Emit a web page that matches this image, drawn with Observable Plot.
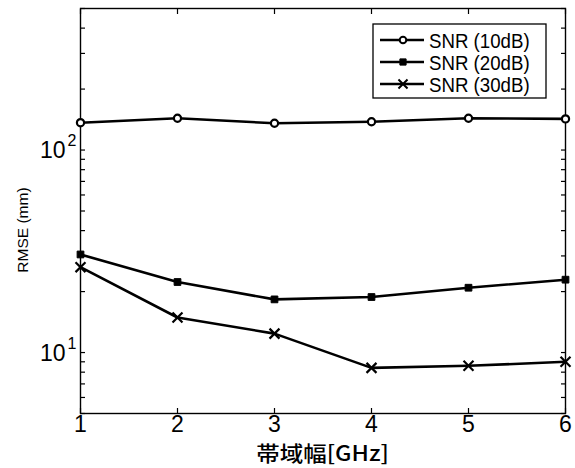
<!DOCTYPE html>
<html>
<head>
<meta charset="utf-8">
<script src="https://cdn.jsdelivr.net/npm/d3@7"></script>
<script src="https://cdn.jsdelivr.net/npm/@observablehq/plot@0.6"></script>
<style>
  html, body { margin: 0; padding: 0; background: #fff; }
  #chart svg { display: block; }
</style>
</head>
<body>
<div id="chart"></div>
<script>
// Bandwidth sweep (GHz) and RMSE (mm) for three SNR levels
const bandwidth = [1, 2, 3, 4, 5, 6];
const rmseSnr10 = [136.5, 143.5, 135.6, 138, 143.5, 142.5];
const rmseSnr20 = [30.5, 22.3, 18.3, 18.8, 20.9, 22.9];
const rmseSnr30 = [26.4, 14.9, 12.4, 8.4, 8.6, 9.0];
const seriesNames = ["SNR (10dB)", "SNR (20dB)", "SNR (30dB)"];

const xTicks = [1, 2, 3, 4, 5, 6];
const yMajorTicks = [10, 100];
const yMinorTicks = [5, 6, 7, 8, 9, 20, 30, 40, 50, 60, 70, 80, 90, 200, 300, 400, 500];
const yTickLabels = [{value: 10, base: "10", exp: "1"}, {value: 100, base: "10", exp: "2"}];
const xLabel = "帯域幅[GHz]";
const yLabel = "RMSE (mm)";

const seriesValues = [rmseSnr10, rmseSnr20, rmseSnr30];
const rows = seriesNames.flatMap((name, s) =>
  bandwidth.map((b, i) => ({series: name, bw: b, rmse: seriesValues[s][i]})));
const bySeries = name => rows.filter(d => d.series === name);

const sans = "'Liberation Sans', Arial, sans-serif";
const allYTicks = [...yMajorTicks, ...yMinorTicks];

const W = 575, H = 468;
const M = {left: 80, right: 10, top: 8, bottom: 55};

const chart = Plot.plot({
  width: W,
  height: H,
  marginLeft: M.left,
  marginRight: M.right,
  marginTop: M.top,
  marginBottom: M.bottom,
  style: {fontFamily: sans, fontSize: "23px", color: "black", background: "white"},
  x: {domain: [1, 6]},
  y: {type: "log", domain: [5, 500]},
  marks: [
    // inward ticks on all four sides
    Plot.axisX({ticks: xTicks, anchor: "bottom", tickSize: -5, fill: "none", label: null, strokeWidth: 1.2}),
    Plot.axisX({ticks: xTicks, anchor: "top", tickSize: -5, fill: "none", label: null, strokeWidth: 1.2}),
    Plot.axisY({ticks: allYTicks, anchor: "left", tickSize: -5, fill: "none", label: null, strokeWidth: 1.2}),
    Plot.axisY({ticks: allYTicks, anchor: "right", tickSize: -5, fill: "none", label: null, strokeWidth: 1.2}),
    // x tick labels
    Plot.axisX({ticks: xTicks, anchor: "bottom", tickSize: 0, tickPadding: 2, label: null, tickFormat: d => String(d), ariaLabel: "x-tick-labels"}),
    // y tick labels as 10 with a superscript exponent
    Plot.text(yTickLabels, {y: "value", frameAnchor: "left", text: "base", textAnchor: "end", lineAnchor: "middle", dx: -15, dy: 1, fontSize: 23, ariaLabel: "y-tick-base"}),
    Plot.text(yTickLabels, {y: "value", frameAnchor: "left", text: "exp", textAnchor: "end", lineAnchor: "middle", dx: -4, dy: -9, fontSize: 16, ariaLabel: "y-tick-exp"}),
    Plot.frame({stroke: "black", strokeWidth: 1.4}),
    // series lines and markers
    ...seriesNames.map(name => Plot.line(bySeries(name), {x: "bw", y: "rmse", stroke: "black", strokeWidth: 2.6})),
    Plot.dot(bySeries(seriesNames[0]), {x: "bw", y: "rmse", symbol: "circle", r: 3.6, fill: "white", stroke: "black", strokeWidth: 2.2}),
    Plot.dot(bySeries(seriesNames[1]), {x: "bw", y: "rmse", symbol: "square", r: 3.8, fill: "black", stroke: "black", strokeWidth: 1}),
    Plot.dot(bySeries(seriesNames[2]), {x: "bw", y: "rmse", symbol: "times", r: 4.6, stroke: "black", strokeWidth: 2.2})
  ]
});

const svg = d3.select(chart);

// condensed look for the numeric tick labels
svg.selectAll("g[aria-label='x-tick-labels'] text, g[aria-label='y-tick-base'] text, g[aria-label='y-tick-exp'] text")
  .attr("transform", function() { return (this.getAttribute("transform") || "") + " scale(0.82,1)"; });

// axis titles
const plotCx = M.left + (W - M.left - M.right) / 2;
svg.append("text")
  .attr("transform", `translate(${plotCx},${H - 7}) scale(1.12,1)`)
  .attr("text-anchor", "middle")
  .style("font-family", "'Noto Sans CJK JP', sans-serif")
  .style("font-size", "21px")
  .style("font-weight", "500")
  .text(xLabel);
svg.append("text")
  .attr("transform", `translate(28,230) rotate(-90)`)
  .attr("text-anchor", "middle")
  .style("font-family", sans)
  .style("font-size", "15.5px")
  .text(yLabel);

// legend box in the upper-right corner of the plotting area
const legend = svg.append("g");
const box = {x: 373, y: 24, w: 173, h: 74};
legend.append("rect")
  .attr("x", box.x).attr("y", box.y).attr("width", box.w).attr("height", box.h)
  .attr("fill", "white").attr("stroke", "black").attr("stroke-width", 1.3);
const symbolSpecs = [
  {type: d3.symbolCircle, r: 3.3, fill: "white", sw: 2},
  {type: d3.symbolSquare, r: 3.5, fill: "black", sw: 1},
  {type: d3.symbolTimes, r: 4.2, fill: "none", sw: 2}
];
seriesNames.forEach((name, i) => {
  const cy = box.y + 16 + i * 22;
  const g = legend.append("g");
  g.append("line").attr("x1", 380).attr("x2", 424).attr("y1", cy).attr("y2", cy)
    .attr("stroke", "black").attr("stroke-width", 2.6);
  const spec = symbolSpecs[i];
  g.append("path")
    .attr("d", d3.symbol(spec.type, Math.PI * spec.r * spec.r)())
    .attr("transform", `translate(403,${cy})`)
    .attr("fill", spec.fill).attr("stroke", "black").attr("stroke-width", spec.sw);
  g.append("text")
    .attr("transform", `translate(429,${cy}) scale(0.89,1)`)
    .attr("dy", "0.36em")
    .attr("text-anchor", "start")
    .style("font-family", sans)
    .style("font-size", "21px")
    .text(name);
});

document.getElementById("chart").appendChild(chart);
</script>
</body>
</html>
